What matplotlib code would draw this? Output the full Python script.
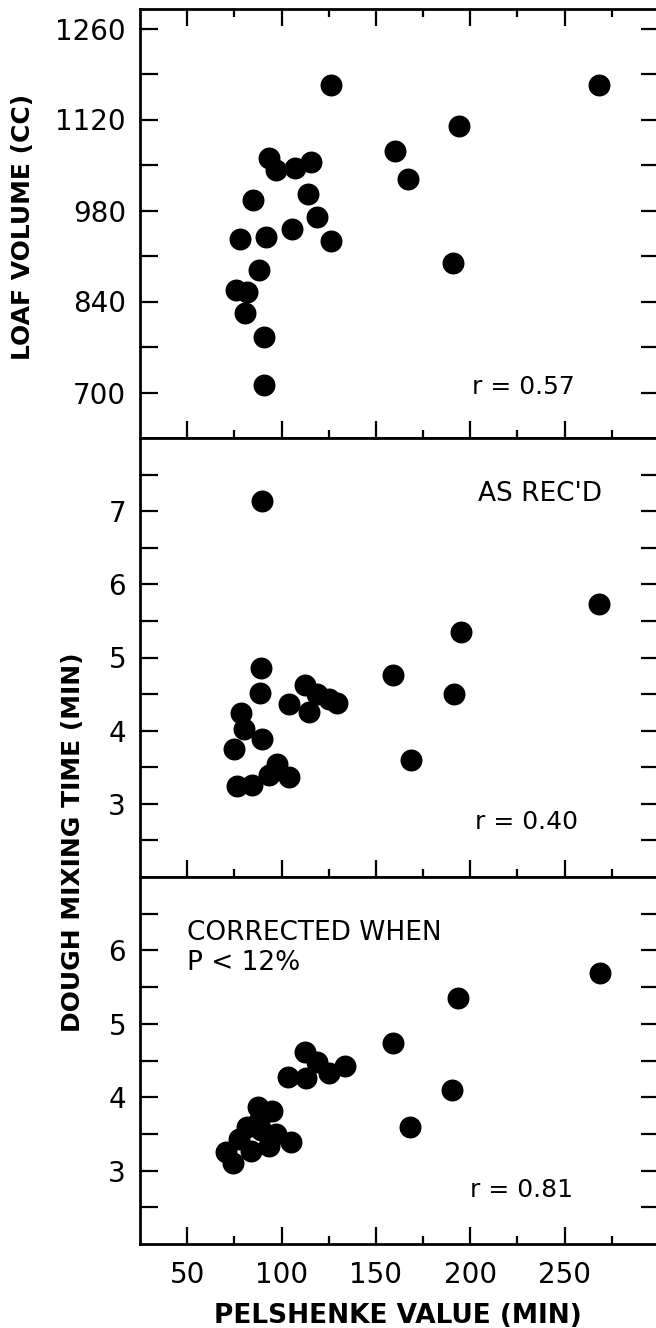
import numpy as np
import matplotlib
matplotlib.use("Agg")
from matplotlib import pyplot as plt

# pelshenke value (min) vs loaf volume (cc)
pel_loaf = [126, 268, 194, 160, 167, 93.3, 97, 107, 115.5, 114, 119, 105.3,
            126, 85, 78, 91.5, 88, 76, 81.5, 80.6, 90.6, 90.6, 191]
loaf_volume = [1173, 1173, 1110, 1072, 1028, 1061, 1043, 1046, 1055, 1006, 970, 951,
               933, 996, 936, 940, 888, 858, 855, 823, 786, 711, 900]

# pelshenke value vs dough mixing time, as received
pel_recd = [89, 88.5, 78.3, 80.2, 89.9, 74.8, 76.6, 84.6, 93.4, 97.8, 104.2, 104,
            112.4, 114.6, 118.9, 125.1, 129.5, 89.6, 268, 195, 159, 191.5, 168.7]
mix_recd = [4.85, 4.51, 4.24, 4.02, 3.88, 3.75, 3.24, 3.26, 3.40, 3.54, 3.37, 4.36,
            4.62, 4.25, 4.50, 4.43, 4.38, 7.14, 5.73, 5.35, 4.76, 4.50, 3.60]

# pelshenke value vs dough mixing time, corrected when P < 12%
pel_corr = [268.8, 193.5, 159.2, 190.4, 167.8, 112.5, 118.9, 103.4, 112.9, 124.9, 133.5,
            87.7, 94.8, 81.9, 96.9, 104.9, 93.4, 83.7, 70.5, 74.5, 77.5, 88.9, 88.1]
mix_corr = [5.69, 5.35, 4.74, 4.10, 3.60, 4.62, 4.48, 4.28, 4.26, 4.33, 4.42,
            3.87, 3.81, 3.59, 3.50, 3.39, 3.34, 3.27, 3.26, 3.11, 3.43, 3.55, 3.68]

x_major = [50, 100, 150, 200, 250]
x_minor = [75, 125, 175, 225, 275]

W, H = 656, 1328
fig = plt.figure(figsize=(W / 100, H / 100), dpi=100)

def panel(top_px, bot_px):
    left = 140 / W
    width = (659 - 140) / W
    return fig.add_axes([left, 1 - bot_px / H, width, (bot_px - top_px) / H])

ax1 = panel(9, 438)
ax2 = panel(438, 877)
ax3 = panel(877, 1244)

ax1.scatter(pel_loaf, loaf_volume, s=250, color="black", linewidths=0, zorder=3)
ax2.scatter(pel_recd, mix_recd, s=250, color="black", linewidths=0, zorder=3)
ax3.scatter(pel_corr, mix_corr, s=250, color="black", linewidths=0, zorder=3)

ax1.set_ylim(630, 1290)
ax1.set_yticks([700, 840, 980, 1120, 1260])
ax1.set_yticks([770, 910, 1050, 1190], minor=True)
ax2.set_ylim(2, 8)
ax2.set_yticks([3, 4, 5, 6, 7])
ax2.set_yticks([2.5, 3.5, 4.5, 5.5, 6.5, 7.5], minor=True)
ax3.set_ylim(2, 7)
ax3.set_yticks([3, 4, 5, 6])
ax3.set_yticks([2.5, 3.5, 4.5, 5.5, 6.5], minor=True)

for ax in (ax1, ax2, ax3):
    ax.set_xlim(25, 300)
    ax.set_xticks(x_major)
    ax.set_xticks(x_minor, minor=True)
    for sp in ax.spines.values():
        sp.set_linewidth(2)
    ax.tick_params(axis="y", which="both", direction="in", left=True, right=True,
                   length=13, width=1.6, labelsize=20, pad=10)
    ax.tick_params(axis="x", which="major", direction="in", length=12, width=1.6,
                   labelsize=20, pad=12)
    ax.tick_params(axis="x", which="minor", direction="in", length=6, width=1.6)
    ax.tick_params(axis="x", which="both", top=False, labelbottom=False)

ax1.tick_params(axis="x", which="both", top=True)
ax3.tick_params(axis="x", which="both", labelbottom=True)

ax1.text(228, 708, "r = 0.57", fontsize=18, ha="center", va="center")
ax2.text(237, 7.23, "AS REC'D", fontsize=19, ha="center", va="center")
ax2.text(230, 2.75, "r = 0.40", fontsize=18, ha="center", va="center")
ax3.text(50, 6.42, "CORRECTED WHEN\nP < 12%", fontsize=19, ha="left", va="top",
         linespacing=1.2)
ax3.text(227, 2.74, "r = 0.81", fontsize=18, ha="center", va="center")

fig.text(23 / W, 1 - 227 / H, "LOAF VOLUME (CC)", rotation=90, fontsize=18,
         fontweight="bold", ha="center", va="center")
fig.text(73 / W, 1 - 842 / H, "DOUGH MIXING TIME (MIN)", rotation=90, fontsize=18,
         fontweight="bold", ha="center", va="center")
fig.text(398 / W, 1 - 1316 / H, "PELSHENKE VALUE (MIN)", fontsize=19,
         fontweight="bold", ha="center", va="center")

fig.savefig("out.png", dpi=100)
